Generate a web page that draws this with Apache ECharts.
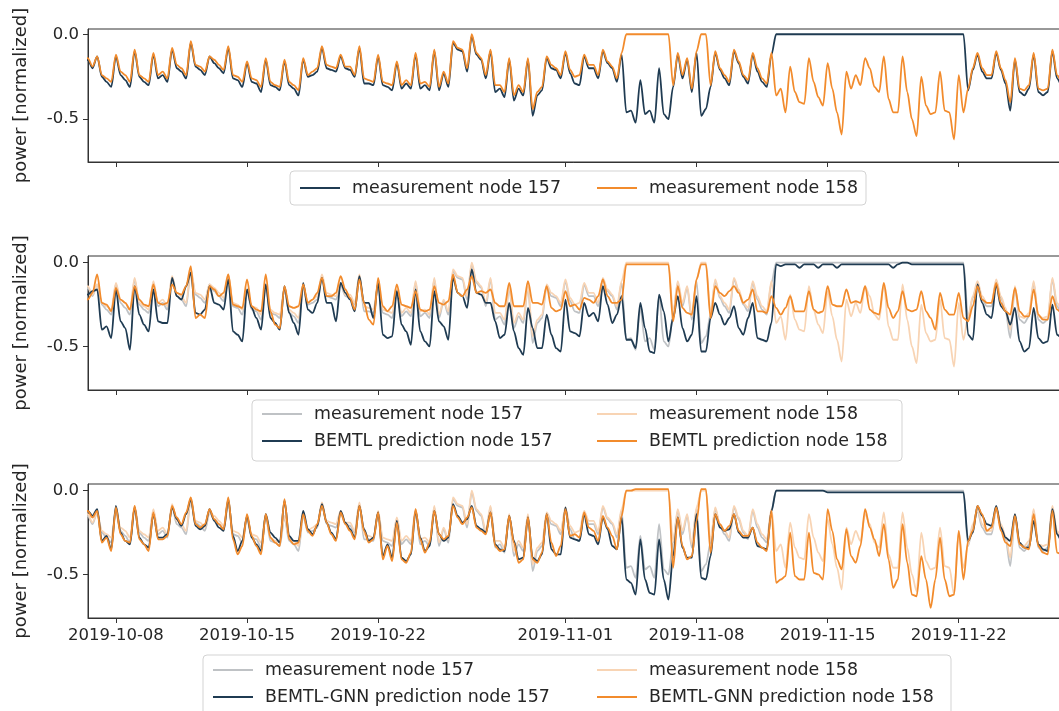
<!DOCTYPE html>
<html><head><meta charset="utf-8">
<script src="https://cdn.jsdelivr.net/npm/echarts@6/dist/echarts.min.js"></script>
<style>html,body{margin:0;padding:0;background:#fff}#c{width:1059px;height:711px}</style>
</head><body><div id="c"></div>
<script>
// time index: samples every 6 h starting 2019-10-06 00:00 (UTC); values in hundredths (x0.01)
const START_UTC = Date.UTC(2019, 9, 6, 0, 0);
const STEP_HOURS = 6;
const TICK_DATES = ['2019-10-08','2019-10-15','2019-10-22','2019-11-01','2019-11-08','2019-11-15','2019-11-22'];
const Y_TICKS = [-0.5, 0.0];

// one row per day: 00h, 06h, 12h, 18h
const meas157 = [
-15,-17,-15,-20, -13,-25,-28,-31, -13,-24,-27,-31, -10,-25,-28,-30, -12,-26,-24,-28,
-9,-20,-22,-26, -5,-19,-21,-24, -13,-17,-20,-23, -8,-26,-27,-31, -17,-28,-29,-34,
-15,-30,-31,-33, -16,-30,-32,-36, -15,-25,-24,-22, -8,-20,-21,-22, -13,-20,-21,-25,
-8,-29,-29,-30, -13,-30,-31,-33, -17,-32,-29,-32, -12,-32,-30,-33, -10,-33,-23,-31,
-5,-9,-10,-22, -1,-12,-15,-26, -10,-34,-32,-37, -15,-39,-32,-36, -15,-48,-36,-33,
-14,-20,-21,-26, -11,-23,-29,-30, -13,-20,-20,-26, -10,-17,-20,-28, -12,-46,-45,-52,
-27,-47,-45,-52, -20,-47,-50,-31, -12,-26,-15,-34, -11,-48,-44,-31, -11,-21,-26,-30,
-10,-17,-25,-29, -12,-22,-28,-31, -12,0,0,0, 0,0,0,0, 0,0,0,0,
0,0,0,0, 0,0,0,0, 0,0,0,0, 0,0,0,0, 0,0,0,0,
0,0,0,0, 0,0,0,0, 0,0,-33,-21, -12,-22,-26,-26, -11,-21,-29,-45,
-15,-34,-36,-32, -12,-34,-36,-34, -10,-26,-30,-32
];
const meas158 = [
-14,-16,-14,-19, -13,-24,-26,-28, -12,-22,-24,-28, -9,-24,-26,-28, -11,-24,-22,-26,
-8,-18,-20,-24, -4,-18,-19,-22, -13,-15,-18,-21, -7,-24,-25,-28, -16,-26,-27,-31,
-14,-28,-30,-31, -15,-28,-30,-33, -14,-24,-22,-20, -7,-18,-19,-20, -12,-19,-19,-24,
-7,-26,-27,-28, -12,-28,-29,-30, -16,-30,-27,-30, -11,-29,-28,-31, -9,-31,-22,-29,
-4,-8,-9,-20, 0,-11,-14,-24, -9,-30,-30,-34, -14,-36,-30,-34, -14,-44,-34,-31,
-13,-18,-20,-24, -10,-21,-25,-24, -12,-18,-18,-24, -9,-16,-19,-26, -11,0,0,0,
0,0,0,0, 0,0,0,-30, -11,-24,-14,-32, -10,0,0,-30, -10,-20,-24,-28,
-9,-16,-24,-27, -11,-20,-26,-29, -11,-36,-32,-46, -19,-34,-40,-41, -14,-28,-37,-42,
-17,-32,-46,-59, -22,-32,-24,-30, -14,-20,-31,-34, -13,-38,-46,-46, -13,-34,-50,-60,
-25,-42,-47,-46, -22,-45,-46,-62, -24,-46,-32,-20, -11,-20,-24,-24, -10,-20,-27,-40,
-14,-32,-33,-30, -11,-32,-33,-32, -9,-24,-28,-30
];
const bemtl157 = [
-18,-18,-19,-17, -16,-40,-38,-45, -16,-35,-39,-52, -14,-31,-37,-41, -16,-35,-36,-36,
-9,-20,-22,-14, -6,-30,-31,-28, -14,-24,-25,-28, -10,-41,-43,-47, -16,-27,-33,-40,
-13,-33,-36,-40, -14,-30,-36,-43, -12,-28,-30,-24, -9,-24,-24,-35, -12,-18,-22,-29,
-8,-24,-24,-33, -12,-43,-45,-44, -17,-37,-41,-49, -16,-41,-47,-50, -17,-35,-38,-46,
-9,-18,-20,-27, -4,-18,-19,-24, -24,-35,-45,-43, -24,-41,-51,-55, -27,-39,-51,-51,
-31,-43,-51,-53, -22,-41,-42,-44, -24,-32,-30,-35, -14,-25,-36,-31, -20,-46,-46,-51,
-24,-39,-53,-54, -19,-29,-47,-33, -20,-39,-47,-43, -20,-53,-53,-33, -24,-31,-37,-33,
-26,-39,-43,-33, -24,-45,-46,-47, -36,-1,-2,-1, -1,-1,-3,-1, -1,-1,-3,-1,
-1,-1,-3,-1, -1,-1,-1,-1, -1,-1,-1,-1, -1,-1,-3,-1, 0,0,-1,-1,
-1,-1,-1,-1, -1,-1,-1,-1, -1,-1,-43,-46, -13,-24,-31,-33, -13,-26,-29,-37,
-27,-47,-53,-51, -27,-45,-48,-47, -25,-43,-45,-45
];
const bemtl158 = [
-20,-20,-22,-18, -7,-24,-25,-29, -15,-22,-24,-28, -14,-22,-25,-26, -13,-24,-25,-24,
-13,-18,-19,-14, -2,-33,-31,-33, -14,-16,-20,-18, -7,-25,-26,-27, -10,-26,-28,-29,
-7,-29,-37,-39, -14,-26,-27,-26, -13,-24,-22,-18, -9,-20,-20,-18, -8,-16,-21,-28,
-10,-24,-34,-37, -9,-26,-29,-26, -13,-25,-26,-27, -17,-28,-29,-28, -14,-24,-25,-23,
-7,-18,-20,-16, -8,-18,-17,-18, -16,-24,-26,-26, -12,-26,-26,-26, -11,-24,-24,-25,
-14,-27,-29,-28, -17,-26,-25,-28, -21,-22,-24,-20, -10,-20,-24,-24, -22,-1,-1,-1,
-1,-1,-1,-1, -1,-1,-1,-35, -14,-27,-30,-31, -10,-1,-1,-33, -14,-18,-20,-17,
-14,-18,-24,-22, -16,-29,-29,-30, -20,-27,-31,-27, -20,-29,-29,-29, -17,-28,-30,-29,
-14,-25,-26,-26, -16,-24,-23,-24, -14,-28,-30,-31, -12,-27,-33,-29, -17,-28,-29,-28,
-17,-29,-33,-40, -18,-28,-31,-31, -18,-33,-35,-26, -14,-22,-24,-24, -12,-24,-29,-31,
-15,-29,-32,-32, -16,-31,-34,-34, -20,-28,-30,-30
];
const gnn157 = [
-12,-14,-12,-15, -11,-30,-27,-35, -9,-25,-30,-32, -10,-28,-32,-34, -14,-28,-28,-26,
-10,-17,-21,-14, -5,-21,-23,-21, -11,-18,-22,-24, -5,-27,-36,-30, -15,-28,-32,-36,
-14,-25,-28,-31, -6,-27,-30,-30, -12,-23,-26,-21, -8,-19,-25,-29, -12,-19,-23,-28,
-9,-23,-30,-28, -13,-39,-32,-40, -18,-40,-42,-38, -12,-28,-36,-33, -12,-26,-30,-28,
-8,-15,-19,-17, -9,-21,-23,-25, -13,-32,-35,-36, -15,-30,-41,-40, -16,-40,-42,-38,
-14,-35,-38,-38, -10,-28,-29,-30, -14,-26,-27,-32, -16,-23,-33,-35, -16,-53,-55,-62,
-29,-53,-61,-62, -29,-53,-65,-39, -16,-34,-40,-40, -14,-52,-53,-39, -14,-22,-24,-23,
-14,-25,-28,-28, -22,-33,-34,-35, -12,0,0,0, 0,0,0,0, 0,0,0,0,
-1,-1,-1,-1, -1,-1,-1,-1, -1,-1,-1,-1, -1,-1,-1,-1, -1,-1,-1,-1,
-1,-1,-1,-1, -1,-1,-1,-1, -1,-1,-30,-25, -9,-15,-20,-21, -9,-22,-28,-30,
-14,-31,-34,-34, -18,-32,-35,-36, -11,-26,-30,-30
];
const gnn158 = [
-12,-14,-12,-16, -12,-31,-28,-36, -10,-26,-30,-31, -9,-29,-32,-36, -13,-29,-29,-27,
-9,-16,-20,-13, -4,-20,-22,-20, -11,-17,-20,-23, -4,-29,-38,-33, -14,-27,-33,-38,
-14,-28,-31,-33, -5,-29,-32,-31, -14,-24,-27,-20, -9,-19,-26,-30, -13,-20,-24,-29,
-9,-24,-31,-29, -13,-41,-33,-42, -19,-41,-43,-37, -11,-29,-37,-31, -12,-26,-29,-27,
-9,-16,-20,-16, -10,-22,-24,-26, -13,-33,-36,-35, -15,-31,-43,-41, -16,-41,-43,-37,
-14,-31,-39,-33, -11,-27,-26,-28, -13,-22,-24,-30, -15,-22,-27,-35, -15,0,0,1,
1,1,1,1, 1,1,1,-46, -16,-33,-41,-39, -18,1,1,-37, -14,-20,-24,-21,
-14,-24,-27,-27, -22,-31,-34,-36, -12,-55,-53,-51, -25,-51,-53,-53, -25,-49,-50,-53,
-11,-24,-41,-47, -23,-39,-43,-33, -11,-22,-29,-39, -20,-41,-58,-53, -20,-43,-62,-63,
-39,-53,-70,-53, -28,-53,-63,-62, -24,-53,-30,-24, -9,-14,-24,-22, -10,-24,-31,-33,
-15,-32,-34,-35, -14,-33,-37,-38, -12,-37,-38,-38
];

const FONT = 'DejaVu Sans';
const FS_TICK = 16.5;
const FS_LEG = 17.4;
const FS_NAME = 18;
const TXT = '#262626';
const AX = '#333333';
const DARK = '#1f3b52';
const ORANGE = '#f28b2c';
const GRAY = '#bfc2c5';
const LIGHTOR = '#f8d4b4';
const DAY = 86400000;
const T0 = Date.UTC(2019, 9, 8);
const X_MIN = T0 - 1.49 * DAY;
const X_MAX = T0 + 57.24 * DAY;
const TICKS = TICK_DATES.map(s => Date.parse(s + 'T00:00:00Z'));

function toPairs(vals) {
  return vals.map((v, i) => [START_UTC + i * STEP_HOURS * 3600000, v / 100]);
}
function mk(name, vals, color, gi) {
  return { type: 'line', name, xAxisIndex: gi, yAxisIndex: gi, data: toPairs(vals),
    showSymbol: false, symbol: 'none', smooth: 0.3, smoothMonotone: 'x',
    lineStyle: { color, width: 1.8 }, itemStyle: { color },
    animation: false, silent: true, clip: true };
}
function xax(gi, showLabels) {
  return { type: 'value', gridIndex: gi, min: X_MIN, max: X_MAX, scale: true,
    axisLine: { show: true, onZero: false, lineStyle: { color: AX, width: 1 } },
    axisTick: { show: true, inside: false, length: 5, customValues: TICKS, lineStyle: { color: AX } },
    axisLabel: { show: showLabels, customValues: TICKS, margin: 9, fontFamily: FONT, fontSize: FS_TICK, color: TXT,
      formatter: v => new Date(v).toISOString().slice(0, 10) },
    splitLine: { show: false } };
}
function yax(gi, min, max) {
  return { type: 'value', gridIndex: gi, min, max,
    name: 'power [normalized]', nameLocation: 'middle', nameGap: 58,
    nameTextStyle: { fontFamily: FONT, fontSize: FS_NAME, color: TXT },
    axisLine: { show: true, onZero: false, lineStyle: { color: AX, width: 1 } },
    axisTick: { show: true, inside: false, length: 5, customValues: Y_TICKS, lineStyle: { color: AX } },
    axisLabel: { customValues: Y_TICKS, margin: 9, fontFamily: FONT, fontSize: FS_TICK, color: TXT,
      formatter: v => v.toFixed(1) },
    splitLine: { show: false } };
}
function leg(left, top, names) {
  return { left, top, orient: 'vertical', itemGap: 7, itemWidth: 40, itemHeight: 2, icon: 'rect',
    padding: 0, selectedMode: false, data: names, z: 10, formatter: n => n.trim(),
    textStyle: { fontFamily: FONT, fontSize: FS_LEG, color: TXT, lineHeight: 20, padding: [0, 0, 0, 7] } };
}
function box(x, y, w, h) {
  return { type: 'rect', shape: { x, y, width: w, height: h, r: 4 },
    style: { fill: '#ffffff', stroke: '#d3d3d3', lineWidth: 1 }, z: 1 };
}

const gridBase = { left: 88, width: 1100, outerBoundsMode: 'none', containLabel: false,
  show: true, borderColor: AX, borderWidth: 1, backgroundColor: 'transparent' };

const option = {
  backgroundColor: '#ffffff',
  animation: false,
  grid: [
    Object.assign({ top: 29, height: 133 }, gridBase),
    Object.assign({ top: 256, height: 134 }, gridBase),
    Object.assign({ top: 484, height: 134 }, gridBase)
  ],
  xAxis: [xax(0, false), xax(1, false), xax(2, true)],
  yAxis: [yax(0, -0.752, 0.031), yax(1, -0.76, 0.04), yax(2, -0.76, 0.04)],
  graphic: [box(290, 171, 576, 34), box(252, 400, 650, 61), box(203, 655, 748, 62)],
  legend: [
    leg(300, 178, ['measurement node 157']),
    leg(597, 178, ['measurement node 158']),
    leg(262, 404, ['measurement node 157 ', 'BEMTL prediction node 157']),
    leg(597, 404, ['measurement node 158 ', 'BEMTL prediction node 158']),
    leg(213, 660, ['measurement node 157  ', 'BEMTL-GNN prediction node 157']),
    leg(597, 660, ['measurement node 158  ', 'BEMTL-GNN prediction node 158'])
  ],
  series: [
    mk('measurement node 157', meas157, DARK, 0),
    mk('measurement node 158', meas158, ORANGE, 0),
    mk('measurement node 157 ', meas157, GRAY, 1),
    mk('measurement node 158 ', meas158, LIGHTOR, 1),
    mk('BEMTL prediction node 157', bemtl157, DARK, 1),
    mk('BEMTL prediction node 158', bemtl158, ORANGE, 1),
    mk('measurement node 157  ', meas157, GRAY, 2),
    mk('measurement node 158  ', meas158, LIGHTOR, 2),
    mk('BEMTL-GNN prediction node 157', gnn157, DARK, 2),
    mk('BEMTL-GNN prediction node 158', gnn158, ORANGE, 2)
  ]
};
const chart = echarts.init(document.getElementById('c'), null, { renderer: 'canvas' });
chart.setOption(option);
</script></body></html>
